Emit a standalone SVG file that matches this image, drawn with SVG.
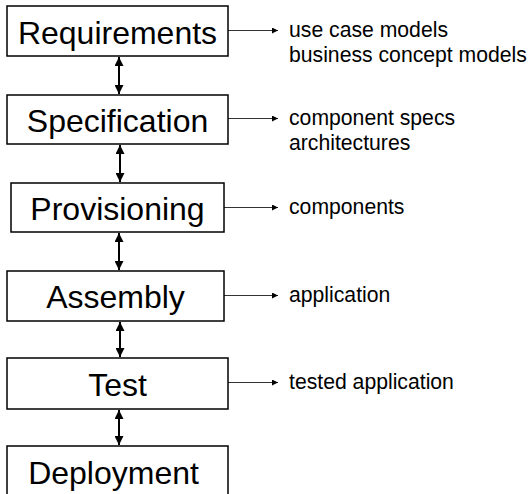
<svg xmlns="http://www.w3.org/2000/svg" width="529" height="494" viewBox="0 0 529 494">
<style>
.box{fill:#fff;stroke:#000;stroke-width:1.5}
.lbl{font-family:"Liberation Sans",Arial,sans-serif;font-size:32px;fill:#000;text-anchor:middle}
.out{font-family:"Liberation Sans",Arial,sans-serif;font-size:21.2px;fill:#000}
.v{stroke:#000;stroke-width:2;fill:none;marker-start:url(#ah);marker-end:url(#ah)}
.h{stroke:#333;stroke-width:1;fill:none;marker-end:url(#ahs)}
</style>
<defs>
<marker id="ah" viewBox="0 0 10 10" refX="10" refY="5" markerWidth="4.8" markerHeight="4.5" orient="auto-start-reverse" markerUnits="strokeWidth">
<path d="M0,0 L10,5 L0,10 Z" fill="#000"/>
</marker>
<marker id="ahs" viewBox="0 0 10 10" refX="10" refY="5" markerWidth="10" markerHeight="6" orient="auto" markerUnits="userSpaceOnUse">
<path d="M0,0 L10,5 L0,10 Z" fill="#000"/>
</marker>
</defs>
<rect width="529" height="494" fill="#fff"/>
<g id="connectors">
<line class="v" x1="119" y1="57" x2="119" y2="94"/>
<line class="v" x1="120" y1="145" x2="120" y2="182"/>
<line class="v" x1="119" y1="233" x2="119" y2="270"/>
<line class="v" x1="120" y1="322" x2="120" y2="357"/>
<line class="v" x1="119" y1="410" x2="119" y2="445"/>
<line class="h" x1="228" y1="30.5" x2="278" y2="30.5"/>
<line class="h" x1="228" y1="118.5" x2="278" y2="118.5"/>
<line class="h" x1="224" y1="207.5" x2="278" y2="207.5"/>
<line class="h" x1="224" y1="295.5" x2="278" y2="295.5"/>
<line class="h" x1="228" y1="382.5" x2="278" y2="382.5"/>
</g>
<g id="requirements">
<rect class="box" x="7" y="6" width="221" height="50"/>
<text class="lbl" x="117.5" y="43.5">Requirements</text>
</g>
<g id="specification">
<rect class="box" x="7" y="95" width="221" height="49"/>
<text class="lbl" x="117.5" y="131.5">Specification</text>
</g>
<g id="provisioning">
<rect class="box" x="11" y="183" width="213" height="49"/>
<text class="lbl" x="117.5" y="219.5">Provisioning</text>
</g>
<g id="assembly">
<rect class="box" x="7" y="271" width="217" height="50"/>
<text class="lbl" x="115.5" y="307.5">Assembly</text>
</g>
<g id="test">
<rect class="box" x="7" y="358" width="221" height="51"/>
<text class="lbl" x="117.5" y="395.5">Test</text>
</g>
<g id="deployment">
<rect class="box" x="7" y="446" width="221" height="60"/>
<text class="lbl" x="113.5" y="483.5">Deployment</text>
</g>
<g id="outputs">
<text class="out" x="289" y="37">use case models</text>
<text class="out" x="289" y="62">business concept models</text>
<text class="out" x="289" y="125">component specs</text>
<text class="out" x="289" y="150">architectures</text>
<text class="out" x="289" y="214">components</text>
<text class="out" x="289" y="302">application</text>
<text class="out" x="289" y="389">tested application</text>
</g>
</svg>
